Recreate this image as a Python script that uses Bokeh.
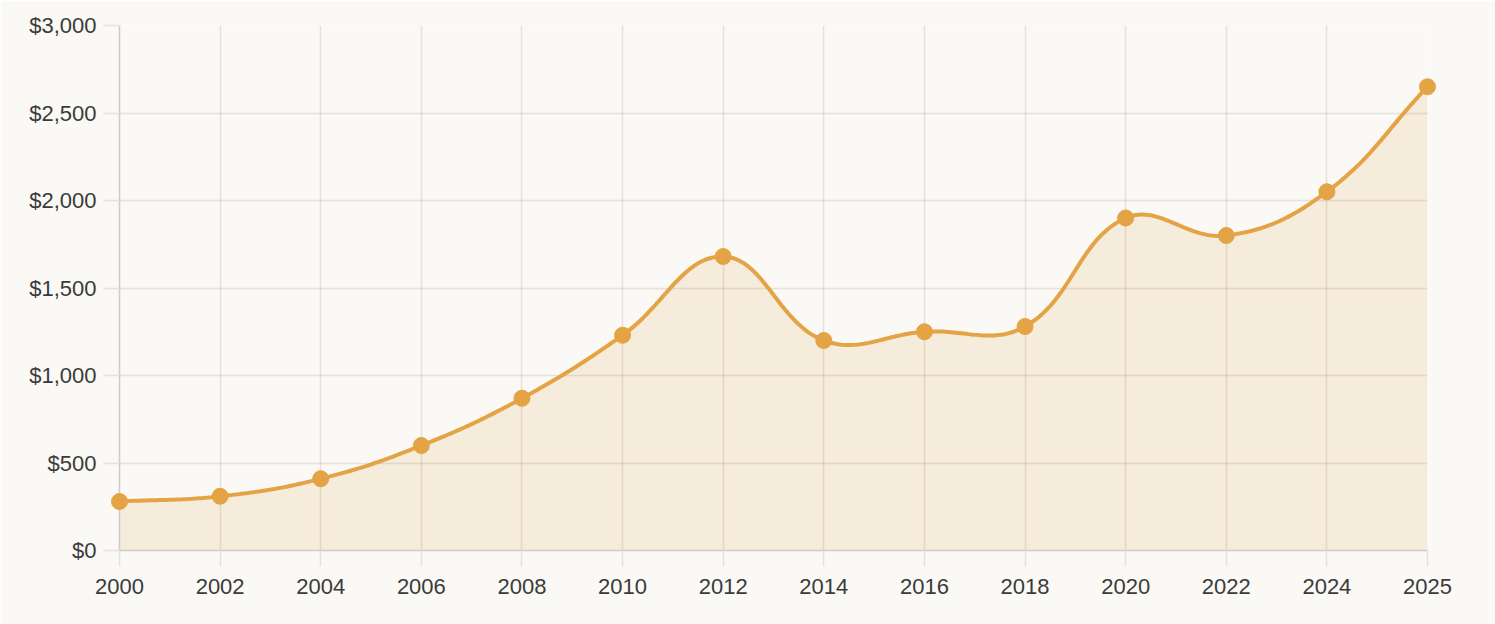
import numpy as np
from bokeh.plotting import figure
from bokeh.models import FixedTicker, NumeralTickFormatter, Range1d
from bokeh.embed import file_html
from bokeh.resources import INLINE

# ---- data ----
years = ["2000", "2002", "2004", "2006", "2008", "2010", "2012",
         "2014", "2016", "2018", "2020", "2022", "2024", "2025"]
values = [280, 310, 410, 600, 870, 1230, 1680,
          1200, 1250, 1280, 1900, 1800, 2050, 2650]
y_ticks = [0, 500, 1000, 1500, 2000, 2500, 3000]

# ---- style ----
BG = "#faf9f5"
GRID = "#5a4630"
GRID_ALPHA = 0.13
TICK = "#e6e3de"
AXIS = "#cfcbc6"
LINE = "#e4a345"
TEXT = "#3b3b3b"
FONT = "Liberation Sans"

W, H = 1495, 624
FL, FT = 119, 25
FW, FH = 1308, 525

n = len(values)
xs = np.arange(n, dtype=float)
ys = np.array(values, dtype=float)

# Smooth curve (cardinal spline with tension 0.4, computed in screen space)
sx = FW / (n - 1)
sy = FH / 3000.0
px = xs * sx
py = ys * sy
t = 0.4
cp_prev = []
cp_next = []
for i in range(n):
    pi = max(i - 1, 0)
    ni = min(i + 1, n - 1)
    d01 = np.hypot(px[i] - px[pi], py[i] - py[pi])
    d12 = np.hypot(px[ni] - px[i], py[ni] - py[i])
    tot = d01 + d12
    s01 = d01 / tot if tot else 0
    s12 = d12 / tot if tot else 0
    fa, fb = t * s01, t * s12
    dx, dy = px[ni] - px[pi], py[ni] - py[pi]
    cp_prev.append((px[i] - fa * dx, py[i] - fa * dy))
    cp_next.append((px[i] + fb * dx, py[i] + fb * dy))

cx, cy = [], []
ts = np.linspace(0, 1, 40)
for i in range(n - 1):
    p0 = np.array([px[i], py[i]])
    p1 = np.array(cp_next[i])
    p2 = np.array(cp_prev[i + 1])
    p3 = np.array([px[i + 1], py[i + 1]])
    seg = ((1 - ts) ** 3)[:, None] * p0 + (3 * (1 - ts) ** 2 * ts)[:, None] * p1 \
        + (3 * (1 - ts) * ts ** 2)[:, None] * p2 + (ts ** 3)[:, None] * p3
    if i > 0:
        seg = seg[1:]
    cx.extend(seg[:, 0] / sx)
    cy.extend(seg[:, 1] / sy)

p = figure(width=W, height=H, output_backend="svg", toolbar_location=None,
           x_range=Range1d(0, n - 1), y_range=Range1d(0, 3000),
           min_border_left=FL, min_border_top=FT,
           min_border_right=W - FL - FW, min_border_bottom=H - FT - FH)
p.background_fill_color = BG
p.border_fill_color = BG
p.outline_line_color = None

p.varea(x=cx, y1=0, y2=cy, fill_color=LINE, fill_alpha=0.14, level="image")
p.line(x=cx, y=cy, line_color=LINE, line_width=4, level="overlay")
p.scatter(x=xs, y=ys, size=16, fill_color=LINE, line_color=LINE, line_width=1,
          level="overlay")

p.xaxis.ticker = FixedTicker(ticks=list(range(n)))
p.xaxis.major_label_overrides = {i: y for i, y in enumerate(years)}
p.yaxis.ticker = FixedTicker(ticks=y_ticks)
p.yaxis.formatter = NumeralTickFormatter(format="$0,0")

for ax in (p.xaxis[0], p.yaxis[0]):
    ax.axis_line_color = AXIS
    ax.axis_line_width = 1.5
    ax.major_tick_line_color = TICK
    ax.major_tick_line_width = 1.5
    ax.major_tick_out = 16
    ax.major_tick_in = 0
    ax.minor_tick_line_color = None
    ax.major_label_text_font = FONT
    ax.major_label_text_font_size = "22px"
    ax.major_label_text_color = TEXT
p.xaxis.major_label_standoff = 12
p.yaxis.major_label_standoff = 7

for g in (p.xgrid[0], p.ygrid[0]):
    g.grid_line_color = GRID
    g.grid_line_alpha = GRID_ALPHA
    g.grid_line_width = 1.5

open("out.html", "w").write(file_html(p, INLINE))
